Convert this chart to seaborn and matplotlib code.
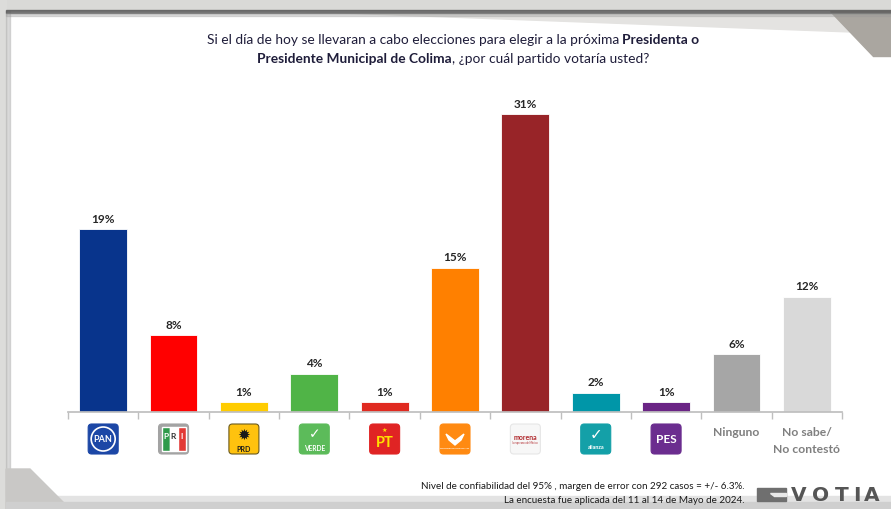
import matplotlib
matplotlib.use("Agg")
import matplotlib.pyplot as plt
from matplotlib.patches import Rectangle, Polygon, FancyBboxPatch, Ellipse
import seaborn as sns

# data
PARTIES = ["PAN", "PRI", "PRD", "VERDE", "PT", "MC", "morena", "Alianza",
           "PES", "Ninguno", "No sabe/\nNo contestó"]
PCT = [19, 8, 1, 4, 1, 15, 31, 2, 1, 6, 12]
COLORS = ["#08348c", "#ff0000", "#ffcc00", "#50b447", "#e02a20", "#ff8000",
          "#982428", "#0096a8", "#6a2485", "#a6a6a6", "#d9d9d9"]
TITLE_1 = [("Si el día de hoy se llevaran a cabo elecciones para elegir a la próxima ", "normal"),
           ("Presidenta o", "bold")]
TITLE_2 = [("Presidente Municipal de Colima", "bold"),
           (", ¿por cuál partido votaría usted?", "normal")]
FOOT_1 = "Nivel de confiabilidad del 95% , margen de error con 292 casos = +/- 6.3%."
FOOT_2 = "La encuesta fue aplicada del 11 al 14 de Mayo de 2024."

sns.set_theme(style="white")
plt.rcParams["font.family"] = ["Lato", "DejaVu Sans"]

W, H = 891, 510
fig = plt.figure(figsize=(W / 100, H / 100), dpi=100)

# slide frame in pixel coords
bg = fig.add_axes([0, 0, 1, 1], zorder=-5)
bg.set_xlim(0, W); bg.set_ylim(H, 0); bg.axis("off")
bg.add_patch(Rectangle((0, 0), W, 12, color="#d9d9d7"))
bg.add_patch(Rectangle((0, 0), 6, H, color="#dcdcda"))
bg.add_patch(Rectangle((6, 12), 4, H - 12, color="#b5b5b5", alpha=.5))
bg.add_patch(Polygon([(300, 12), (W, 12), (W, 34)], color="#e4e3e1"))
bg.add_patch(Polygon([(830, 12), (W, 12), (W, 57), (873, 57)], color="#aaa6a0"))
bg.add_patch(Rectangle((6, 11), W, 3, color="#5a5a5a", alpha=.8))
bg.add_patch(Rectangle((6, 14), W, 3, color="#9a9a9a", alpha=.35))
bg.add_patch(Polygon([(6, 497), (W, 497), (W, H), (6, H)], color="#e3e3e3"))
bg.add_patch(Polygon([(6, 470), (30, 470), (70, H), (6, H)], color="#c9c8c6"))
bg.add_patch(Rectangle((6, 503), W, 7, color="#cfcfcf"))

# title with mixed weights
rend = fig.canvas.get_renderer()
for line, y in ((TITLE_1, 40), (TITLE_2, 59)):
    parts = [bg.text(0, y, s, fontsize=9.9, fontweight=w, color="#1f1d3a",
                     ha="left", va="center") for s, w in line]
    widths = [t.get_window_extent(rend).width for t in parts]
    x = 453 - sum(widths) / 2
    for t, wdt in zip(parts, widths):
        t.set_x(x); x += wdt

# bars
ax = fig.add_axes([68 / W, (H - 413) / H, 774 / W, 318 / H])
sns.barplot(x=PARTIES, y=PCT, hue=PARTIES, palette=COLORS, legend=False,
            width=0.68, ax=ax, saturation=1, edgecolor="white", linewidth=0.6)
ax.set_xlim(-0.5, len(PARTIES) - 0.5)
ax.set_ylim(0, 33.1)
sns.despine(ax=ax, left=True)
ax.spines["bottom"].set_color("#bfbfbf")
ax.set_yticks([]); ax.set_ylabel(""); ax.set_xlabel("")
ax.set_xticks(range(len(PARTIES)))
ax.set_xticklabels([])
ax.set_xticks([i - 0.5 for i in range(len(PARTIES) + 1)], minor=True)
ax.tick_params(axis="x", which="minor", direction="out", length=5,
               color="#bfbfbf", bottom=True)
ax.tick_params(axis="x", which="major", direction="in", length=3,
               color="#c8c8c8", bottom=True)
for i, v in enumerate(PCT):
    ax.annotate(f"{v}%", (i, v), xytext=(0, 4), textcoords="offset points",
                ha="center", va="bottom", fontsize=8.5, fontweight="bold",
                color="#262626")

# party logos below the axis (x data, y axes)
tr = ax.get_xaxis_transform()
PX_X, PX_Y = 1 / 70.36, 1 / 318


def ypx(p):
    return (413 - p) / 318


def box(i, fc, ec=None):
    w = 30 * PX_X
    ax.add_patch(FancyBboxPatch((i - w / 2, ypx(455)), w, 30 * PX_Y,
                 boxstyle="round,pad=0,rounding_size=0.05",
                 mutation_aspect=PX_Y / PX_X, fc=fc, ec=ec or fc, lw=0.8,
                 transform=tr, clip_on=False))


def txt(i, y, s, **kw):
    kw.setdefault("fontweight", "bold")
    ax.text(i, ypx(y), s, transform=tr, ha="center", va="center",
            clip_on=False, **kw)


yc = 440
# PAN
box(0, "#1c47a6")
ax.add_patch(Ellipse((0, ypx(yc)), 24 * PX_X, 24 * PX_Y, fc="none", ec="white",
                     lw=1.2, transform=tr, clip_on=False))
txt(0, yc, "PAN", fontsize=6.5, color="white")
# PRI
box(1, "#a3a3a3")
for k, c in enumerate(["#2f9a4a", "#ffffff", "#e23a36"]):
    ax.add_patch(Rectangle((1 - 12 * PX_X + k * 8 * PX_X, ypx(452)), 8 * PX_X,
                           24 * PX_Y, fc=c, transform=tr, clip_on=False))
for k, ch in enumerate("PRI"):
    txt(1 + (k - 1) * 8 * PX_X, 437, ch, fontsize=6,
        color="#333333" if ch == "R" else "white")
# PRD
box(2, "#ffc20e", "#6b5a1e")
txt(2, 435, "✹", fontsize=11, color="#1a1a1a", family="DejaVu Sans")
txt(2, 450, "PRD", fontsize=5, color="#1a1a1a")
# VERDE
box(3, "#5cbb5a")
txt(3, 434, "✓", fontsize=10, color="white", family="DejaVu Sans")
txt(3, 449, "VERDE", fontsize=4.8, color="white")
# PT
box(4, "#e02424")
txt(4, 430, "★", fontsize=4.5, color="#ffe000", family="DejaVu Sans")
txt(4, 443, "PT", fontsize=10.5, color="#ffe000")
# MC
box(5, "#ff8a12")
ax.add_patch(Polygon([(5 - 9 * PX_X, ypx(435)), (5, ypx(442)), (5 + 9 * PX_X, ypx(435)),
                      (5 + 6 * PX_X, ypx(441)), (5, ypx(446)), (5 - 6 * PX_X, ypx(441))],
                     fc="white", transform=tr, clip_on=False))
txt(5, 449, "MOVIMIENTO CIUDADANO", fontsize=1.6, color="white")
# morena
box(6, "#f7f7f7", "#e6e6e6")
txt(6, 438, "morena", fontsize=5, color="#b0282c")
txt(6, 443, "la esperanza de México", fontsize=1.8, color="#b0282c", fontweight="normal")
# Alianza
box(7, "#14a0a8")
txt(7, 435, "✓", fontsize=11, color="white", family="DejaVu Sans")
txt(7, 448, "alianza", fontsize=4, color="white")
# PES
box(8, "#6b2d8f")
txt(8, 440, "PES", fontsize=8.5, color="white")
# text categories
txt(9, 433, "Ninguno", fontsize=8.7, color="#7f7f7f")
txt(10, 433, "No sabe/", fontsize=8.7, color="#7f7f7f")
txt(10, 450, "No contestó", fontsize=8.7, color="#7f7f7f")

# footer
bg.text(745, 487, FOOT_1, fontsize=7.1, ha="right", va="center", color="#1a1a1a")
bg.text(745, 501, FOOT_2, fontsize=7.1, ha="right", va="center", color="#1a1a1a")

# VOTIA mark
bg.add_patch(Polygon([(757, 489), (786, 489), (786, 502), (757, 502)], color="#6f6f6f"))
bg.add_patch(Polygon([(770, 494), (786, 494), (786, 497), (774, 497)], color="#e8e8e8"))
for ch, cx in zip("VOTIA", [799, 821, 842, 857, 872]):
    bg.text(cx, 496, ch, fontsize=14.5, ha="center", va="center",
            color="#555555", family="DejaVu Sans", fontweight="bold")

fig.savefig("out.png", dpi=100, facecolor="white")
